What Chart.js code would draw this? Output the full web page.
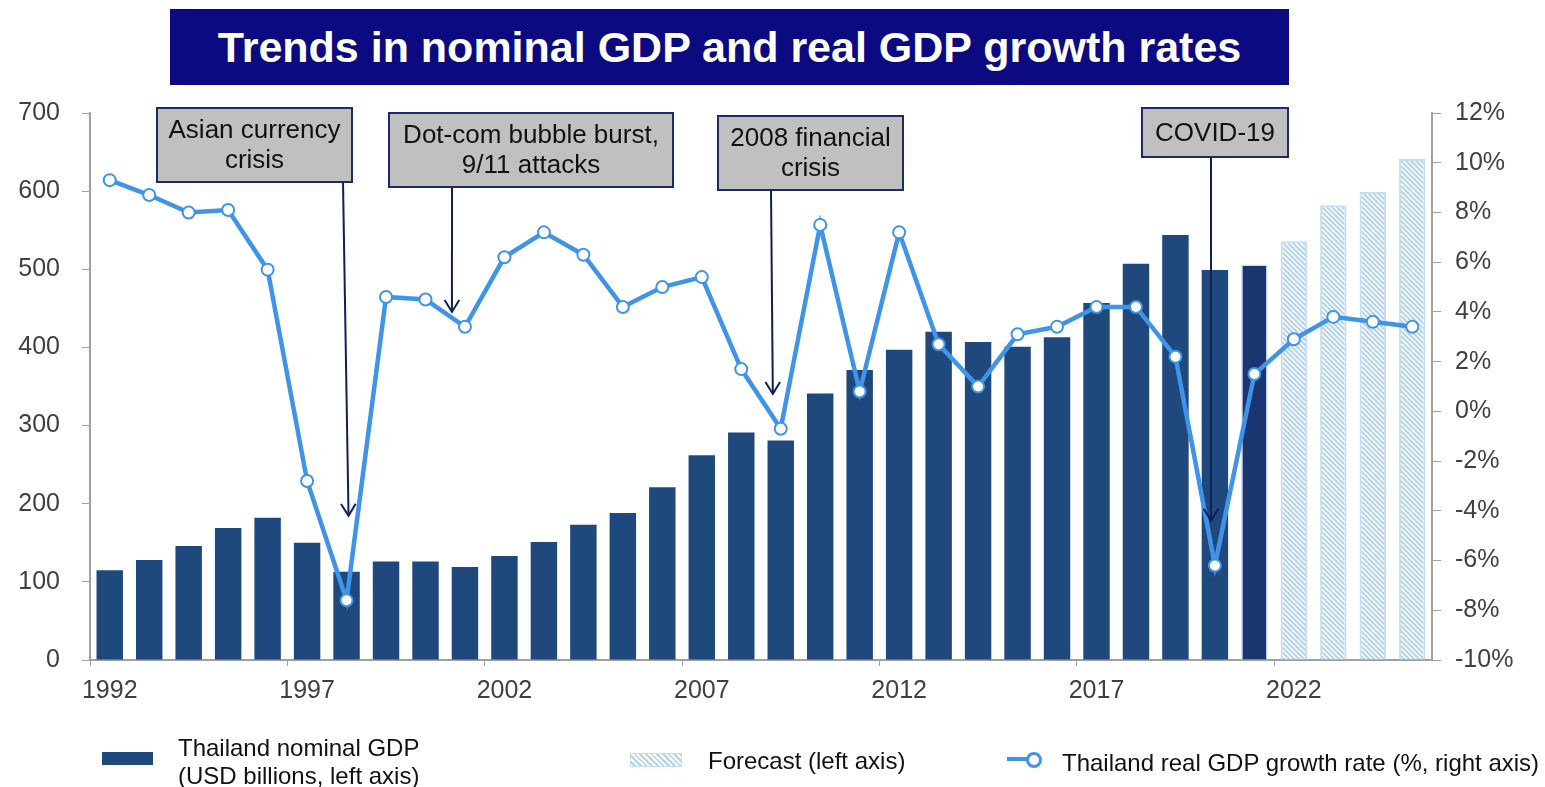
<!DOCTYPE html>
<html>
<head>
<meta charset="utf-8">
<script src="https://cdn.jsdelivr.net/npm/chart.js@4.4.1/dist/chart.umd.min.js"></script>
<style>
  body { margin: 0; background: #fff; font-family: "Liberation Sans", Arial, sans-serif; }
  #wrap { position: relative; width: 1545px; height: 787px; overflow: hidden; }
  #chart { position: absolute; left: 0; top: 0; }
  #title {
    position: absolute; left: 170px; top: 9px; width: 1119px; height: 76px;
    background: #0c0a80; color: #fff; font-weight: bold; font-size: 43px;
    line-height: 76px; text-align: center;
  }
  .lg { position: absolute; font-size: 24px; color: #111; line-height: 28px; white-space: nowrap; }
  .sw { position: absolute; }
</style>
</head>
<body>
<div id="wrap">
  <canvas id="chart" width="1545" height="787"></canvas>
  <div id="title">Trends in nominal GDP and real GDP growth rates</div>

  <div class="sw" style="left:102px;top:752px;width:51px;height:13px;background:#1f487c"></div>
  <div class="lg" style="left:178px;top:734px">Thailand nominal GDP<br>(USD billions, left axis)</div>

  <div class="sw" style="left:630px;top:753px;width:50px;height:12px;border:1px solid #c6ddf6;
       background:repeating-linear-gradient(45deg,#fff 0 2px,#b4d2f4 2px 4px)"></div>
  <div class="lg" style="left:708px;top:747px">Forecast (left axis)</div>

  <div class="sw" style="left:1007px;top:757px;width:30px;height:4px;background:#3f94ea"></div>
  <div class="sw" style="left:1026px;top:752px;width:10px;height:10px;border:3px solid #3f94ea;border-radius:50%;background:#fff"></div>
  <div class="lg" style="left:1062px;top:749px">Thailand real GDP growth rate (%, right axis)</div>
</div>

<script>
// years 1992 - 2025
var years = []
for (let y = 1992; y <= 2025; y++) years.push(String(y))

// nominal GDP, USD billions (actual up to 2021)
var gdpActual = [115, 128, 146, 169, 182, 150, 113, 126, 126, 119,
                 133, 151, 173, 188, 221, 262, 291, 281, 341, 371,
                 397, 420, 407, 401, 413, 457, 507, 544, 499, 506,
                 null, null, null, null]

// forecast, USD billions
var gdpForecast = [null, null, null, null, null, null, null, null, null, null,
                   null, null, null, null, null, null, null, null, null, null,
                   null, null, null, null, null, null, null, null, null, null,
                   536, 582, 599, 641]

// real GDP growth rate, %
var growth = [9.3, 8.7, 8.0, 8.1, 5.7, -2.8, -7.6, 4.6, 4.5, 3.4,
              6.2, 7.2, 6.3, 4.2, 5.0, 5.4, 1.7, -0.7, 7.5, 0.8,
              7.2, 2.7, 1.0, 3.1, 3.4, 4.2, 4.2, 2.2, -6.2, 1.5,
              2.9, 3.8, 3.6, 3.4]

var leftTicks = [0, 100, 200, 300, 400, 500, 600, 700]
var rightTicks = [-10, -8, -6, -4, -2, 0, 2, 4, 6, 8, 10, 12]

// annotations: text lines, year the arrow points at, arrow tip (% on right axis)
var annoText = [['Asian currency', 'crisis'], ['Dot-com bubble burst,', '9/11 attacks'],
                ['2008 financial', 'crisis'], ['COVID-19']]
var annoYear = [1998.05, 2000.67, 2008.8, 2019.9]
var annoTip = [-4.2, 4.0, 0.7, -4.4]

var axisColor = '#a0a0a0'
var labelColor = '#404040'
var fontFamily = '"Liberation Sans", Arial, sans-serif'

function hatchPattern() {
    var s = 5
    var c = document.createElement('canvas')
    c.width = s
    c.height = s
    var g = c.getContext('2d')
    g.fillStyle = '#ffffff'
    g.fillRect(0, 0, s, s)
    g.strokeStyle = '#b4d2f4'
    g.lineWidth = 2
    g.beginPath()
    g.moveTo(0, 0); g.lineTo(s, s)
    g.moveTo(-s / 2, s / 2); g.lineTo(s / 2, s * 1.5)
    g.moveTo(s / 2, -s / 2); g.lineTo(s * 1.5, s / 2)
    g.stroke()
    return g.createPattern(c, 'repeat')
}

// box geometry for each annotation (left, top, width, height)
var boxes = [[157, 108, 195, 74], [389, 113, 284, 74], [718, 116, 185, 74], [1142, 108, 146, 49]]
var tails = [343, 452, 771, 1211]

var annotationPlugin = {
    id: 'eventBoxes',
    afterDatasetsDraw(chart) {
        var ctx = chart.ctx
        var xs = chart.scales.x
        var y1 = chart.scales.y1
        var step = xs.getPixelForValue(1) - xs.getPixelForValue(0)
        ctx.save()
        for (let i = 0; i < annoText.length; i++) {
            var b = boxes[i]
            var tipX = xs.getPixelForValue(0) + (annoYear[i] - 1992) * step
            var tipY = y1.getPixelForValue(annoTip[i])
            var tailX = tails[i]
            var tailY = b[1] + b[3]
            // arrow line
            ctx.strokeStyle = '#0d1f5c'
            ctx.lineWidth = 2
            ctx.beginPath()
            ctx.moveTo(tailX, tailY)
            ctx.lineTo(tipX, tipY)
            ctx.stroke()
            var ang = Math.atan2(tipY - tailY, tipX - tailX)
            var h = 14
            ctx.beginPath()
            ctx.moveTo(tipX - h * Math.cos(ang - 0.55), tipY - h * Math.sin(ang - 0.55))
            ctx.lineTo(tipX, tipY)
            ctx.lineTo(tipX - h * Math.cos(ang + 0.55), tipY - h * Math.sin(ang + 0.55))
            ctx.stroke()
            // box
            ctx.fillStyle = '#c0c0c0'
            ctx.fillRect(b[0], b[1], b[2], b[3])
            ctx.strokeStyle = '#1a2a6c'
            ctx.lineWidth = 2
            ctx.strokeRect(b[0], b[1], b[2], b[3])
            ctx.fillStyle = '#111'
            ctx.font = '26px ' + fontFamily
            ctx.textAlign = 'center'
            ctx.textBaseline = 'middle'
            var lines = annoText[i]
            var cy = b[1] + b[3] / 2 + 1 - (lines.length - 1) * 15
            for (let k = 0; k < lines.length; k++) {
                ctx.fillText(lines[k], b[0] + b[2] / 2, cy + k * 30)
            }
        }
        ctx.restore()
    }
}

var ctx = document.getElementById('chart').getContext('2d')
var hatch = hatchPattern()

new Chart(ctx, {
    data: {
        labels: years,
        datasets: [
            {
                type: 'line',
                label: 'Thailand real GDP growth rate (%, right axis)',
                data: growth,
                yAxisID: 'y1',
                borderColor: '#3f94ea',
                borderWidth: 4.5,
                pointRadius: 6,
                pointBorderWidth: 2,
                pointBackgroundColor: '#ffffff',
                pointBorderColor: '#3f94ea',
                tension: 0,
                order: 0,
            },
            {
                type: 'bar',
                label: 'Thailand nominal GDP (USD billions, left axis)',
                data: gdpActual,
                yAxisID: 'y',
                grouped: false,
                backgroundColor: (c) => c.dataIndex == 29 ? '#1a3570' : '#1f487c',
                borderColor: (c) => c.dataIndex == 29 ? '#c6ddf6' : '#1f487c',
                borderWidth: (c) => c.dataIndex == 29 ? 1.5 : 0,
                barPercentage: 0.67,
                categoryPercentage: 1,
                order: 1,
            },
            {
                type: 'bar',
                label: 'Forecast (left axis)',
                data: gdpForecast,
                yAxisID: 'y',
                grouped: false,
                backgroundColor: hatch,
                borderColor: '#c6ddf6',
                borderWidth: 2,
                barPercentage: 0.67,
                categoryPercentage: 1,
                order: 1,
            },
        ]
    },
    options: {
        responsive: false,
        animation: false,
        layout: { padding: { top: 113, left: 0, right: 0, bottom: 0 } },
        plugins: {
            legend: { display: false },
            tooltip: { enabled: false },
        },
        scales: {
            x: {
                offset: true,
                grid: {
                    offset: true,
                    drawOnChartArea: false,
                    tickLength: 6,
                    tickColor: (c) => c.index % 5 == 0 ? axisColor : 'rgba(0,0,0,0)',
                },
                border: { color: axisColor, width: 2 },
                ticks: {
                    autoSkip: false,
                    maxRotation: 0,
                    padding: 10,
                    color: labelColor,
                    font: { size: 25, family: fontFamily },
                    callback: function(v, i) { return i % 5 == 0 ? years[i] : '' },
                },
                afterFit: function(s) { s.height = 127 },
            },
            y: {
                position: 'left',
                min: 0,
                max: 700,
                afterBuildTicks: function(s) { s.ticks = leftTicks.map(v => ({value: v})) },
                grid: { drawOnChartArea: false, tickLength: 8, color: axisColor },
                border: { color: axisColor, width: 2 },
                ticks: {
                    padding: 22,
                    color: labelColor,
                    font: { size: 25, family: fontFamily },
                },
                afterFit: function(s) { s.width = 90 },
            },
            y1: {
                position: 'right',
                min: -10,
                max: 12,
                afterBuildTicks: function(s) { s.ticks = rightTicks.map(v => ({value: v})) },
                grid: { drawOnChartArea: false, tickLength: 9, color: axisColor },
                border: { color: axisColor, width: 2 },
                ticks: {
                    padding: 14,
                    color: labelColor,
                    font: { size: 25, family: fontFamily },
                    callback: function(v) { return v + '%' },
                },
                afterFit: function(s) { s.width = 113 },
            },
        }
    },
    plugins: [annotationPlugin]
})
</script>
</body>
</html>
